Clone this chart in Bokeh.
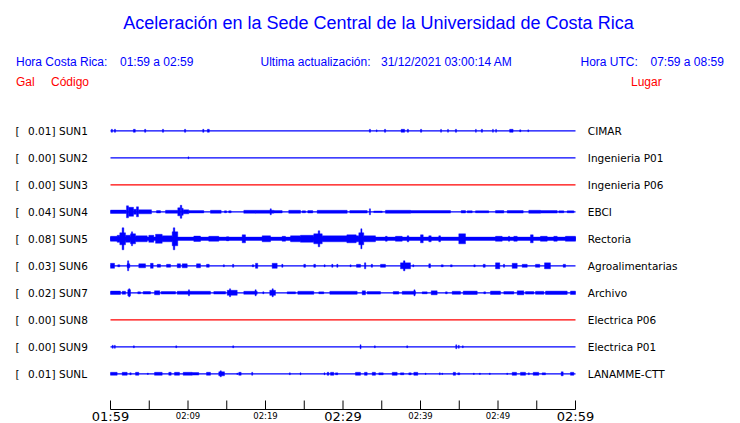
from bokeh.plotting import figure
from bokeh.models import Range1d
from bokeh.core.properties import value
from bokeh.embed import file_html
from bokeh.resources import INLINE

# ---------------- data ----------------
codes = ["SUN1", "SUN2", "SUN3", "SUN4", "SUN5", "SUN6", "SUN7", "SUN8", "SUN9", "SUNL"]
places = ["CIMAR", "Ingenieria P01", "Ingenieria P06", "EBCI", "Rectoria",
          "Agroalimentarias", "Archivo", "Electrica P06", "Electrica P01", "LANAMME-CTT"]
peak_gal = ["0.01", "0.00", "0.00", "0.04", "0.08", "0.03", "0.02", "0.00", "0.00", "0.01"]
trace_colors = ["#0000FF", "#0000FF", "#FF0000", "#0000FF", "#0000FF",
                "#0000FF", "#0000FF", "#FF0000", "#0000FF", "#0000FF"]

# bursts: (start minute, end minute, relative amplitude) ; minutes after 01:59
sun1_bursts = [(0.1, 0.25, 1.5), (0.5, 0.65, 1.5), (2.95, 3.2, 1.5), (4.4, 4.55, 1.5),
               (6.7, 6.85, 1.5), (9.55, 9.7, 1.5), (11.9, 12.05, 1.5), (12.5, 12.75, 1.5),
               (33.4, 33.55, 1.5), (34.3, 34.4, 1.0), (35.35, 35.5, 1.5), (37.5, 37.95, 1.5),
               (38.3, 38.45, 1.5), (40.0, 40.15, 1.5), (42.6, 42.7, 1.5), (43.5, 43.6, 1.5),
               (44.5, 44.65, 1.5), (47.1, 47.2, 1.5), (47.85, 48.0, 1.5), (49.3, 49.4, 1.5),
               (49.7, 49.8, 1.5), (51.5, 51.95, 1.5), (52.8, 52.95, 1.0), (53.85, 53.95, 1.0)]
sun2_bursts = [(10.0, 10.1, 1.0)]
sun3_bursts = []
sun4_bursts = [(0.0, 2.06, 1.7), (2.06, 2.32, 6.0), (2.32, 2.97, 4.5), (2.97, 3.35, 2.5),
               (3.35, 3.61, 5.0), (3.61, 5.29, 2.0), (5.94, 6.45, 1.2), (7.1, 8.68, 1.5),
               (8.68, 9.0, 4.0), (9.0, 9.2, 6.5), (9.2, 9.38, 3.5), (9.38, 10.1, 2.0),
               (10.1, 12.04, 1.2), (12.9, 14.28, 1.5), (14.71, 14.97, 1.0), (15.26, 15.57, 1.0),
               (17.2, 18.71, 1.5), (18.71, 21.07, 1.5), (20.6, 20.75, 3.0), (21.07, 22.15, 1.2),
               (23.0, 24.52, 1.5), (24.74, 25.16, 1.0), (25.46, 26.1, 1.2), (26.67, 30.54, 1.5),
               (30.88, 33.12, 1.3), (33.4, 33.55, 3.0), (33.97, 35.06, 0.8), (35.48, 38.71, 1.5),
               (38.71, 43.87, 1.3), (45.25, 45.81, 1.2), (46.03, 46.67, 1.0), (47.1, 48.81, 1.0),
               (49.68, 50.75, 1.3), (51.19, 53.25, 1.3), (53.97, 55.48, 1.5), (55.48, 57.64, 1.3),
               (57.85, 58.49, 1.0), (58.93, 59.78, 1.0)]
sun5_bursts = [(0.0, 60.0, 1.7), (0.0, 0.86, 2.5), (0.86, 1.2, 3.5), (1.2, 1.94, 6.0),
               (1.5, 1.72, 11.0), (1.94, 2.58, 3.5), (2.58, 3.23, 5.0), (2.7, 2.85, 7.0),
               (3.23, 4.74, 3.0), (4.94, 5.59, 3.5), (5.81, 6.67, 4.5), (6.67, 7.96, 3.0),
               (7.96, 8.68, 7.0), (8.1, 8.3, 11.0), (10.75, 11.61, 2.7), (12.68, 13.97, 2.5),
               (14.97, 15.26, 2.0), (16.99, 17.42, 4.0), (19.57, 20.65, 3.0), (22.15, 22.58, 2.5),
               (23.23, 24.52, 3.0), (24.52, 26.23, 3.5), (26.23, 27.32, 5.0), (26.8, 27.0, 8.0),
               (27.32, 32.04, 3.0), (30.5, 31.7, 4.0), (32.04, 32.68, 6.0), (32.3, 32.45, 10.0),
               (32.68, 34.19, 3.0), (35.48, 35.7, 2.5), (36.77, 37.64, 2.5), (38.28, 38.49, 3.0),
               (40.0, 40.35, 4.0), (41.07, 41.38, 3.0), (42.36, 42.58, 3.0), (44.94, 45.81, 5.0),
               (49.68, 50.54, 2.5), (51.35, 51.5, 2.5), (52.04, 52.48, 2.5), (54.19, 54.54, 4.0),
               (55.48, 56.35, 2.5), (57.2, 57.64, 2.5), (58.7, 60.0, 2.5)]
sun6_bursts = [(0.0, 0.52, 2.5), (0.94, 1.2, 1.0), (2.15, 2.49, 2.0), (2.2, 2.35, 5.0),
               (3.65, 4.52, 2.0), (5.16, 5.51, 2.5), (6.03, 6.45, 1.5), (7.23, 7.74, 1.5),
               (8.61, 9.03, 2.0), (9.25, 9.9, 2.0), (11.1, 11.61, 2.0), (12.39, 12.74, 1.5),
               (14.55, 14.7, 1.0), (15.75, 15.9, 1.5), (18.28, 18.49, 1.0), (18.71, 19.0, 2.5),
               (20.86, 21.51, 2.5), (22.1, 22.25, 1.5), (24.94, 25.16, 1.5), (26.23, 26.45, 1.5),
               (27.55, 27.7, 1.0), (28.55, 28.7, 1.5), (29.2, 29.35, 1.5), (30.9, 31.05, 1.0),
               (31.74, 32.26, 1.5), (32.77, 32.94, 3.0), (33.64, 33.81, 1.5), (34.84, 35.48, 1.5),
               (37.42, 38.71, 3.0), (37.8, 38.0, 5.0), (39.0, 39.15, 1.0), (41.07, 41.29, 2.0),
               (42.67, 42.93, 1.0), (43.87, 44.09, 1.0), (46.88, 47.06, 1.0), (48.09, 48.35, 1.5),
               (49.68, 50.23, 3.0), (50.7, 50.85, 1.5), (51.83, 52.48, 2.5), (53.12, 53.77, 1.5),
               (54.84, 55.39, 1.5), (56.0, 56.77, 3.0), (58.41, 58.71, 1.5)]
sun7_bursts = [(0.0, 1.29, 1.7), (1.51, 1.94, 1.5), (2.23, 2.58, 3.0), (2.35, 2.5, 4.0),
               (3.52, 3.87, 1.0), (4.22, 5.16, 1.3), (5.68, 6.36, 2.0), (6.54, 8.39, 1.3),
               (8.61, 10.1, 1.5), (10.05, 10.2, 3.0), (10.1, 12.9, 1.5), (13.33, 14.84, 1.3),
               (15.06, 16.35, 2.5), (15.35, 15.5, 4.0), (17.2, 18.93, 1.5), (18.65, 18.8, 3.0),
               (19.65, 19.8, 1.0), (20.55, 21.29, 2.5), (20.85, 21.0, 4.0), (22.8, 23.87, 1.0),
               (24.17, 26.23, 1.5), (26.88, 27.52, 1.0), (28.3, 31.83, 1.5), (32.48, 32.9, 2.0),
               (33.12, 34.84, 1.3), (36.48, 37.2, 1.3), (37.64, 39.35, 1.5), (39.15, 39.3, 3.0),
               (40.22, 40.86, 1.0), (41.38, 42.15, 2.0), (43.23, 43.45, 1.0), (44.09, 45.16, 1.5),
               (45.51, 47.32, 1.7), (48.17, 48.39, 1.0), (49.03, 50.32, 1.7), (50.75, 52.04, 1.3),
               (52.48, 53.33, 2.0), (53.55, 54.62, 1.3), (54.84, 55.91, 1.5), (56.13, 58.93, 1.7),
               (59.35, 60.0, 1.7)]
sun8_bursts = []
sun9_bursts = [(0.22, 0.35, 1.5), (0.5, 0.62, 1.5), (2.95, 3.08, 1.0), (8.42, 8.55, 1.0),
               (15.77, 15.9, 1.0), (32.2, 32.33, 2.0), (34.05, 34.17, 1.0), (38.22, 38.35, 1.0),
               (44.55, 44.68, 2.0), (44.88, 45.0, 1.5), (45.4, 45.52, 1.0)]
sunl_bursts = [(0.0, 0.86, 1.5), (1.51, 2.15, 1.5), (2.49, 2.67, 1.0), (3.23, 3.65, 1.5),
               (4.75, 4.88, 0.7), (5.68, 6.67, 1.5), (7.52, 7.83, 1.5), (8.26, 8.9, 1.5),
               (9.38, 10.54, 1.5), (10.54, 11.39, 1.3), (12.39, 12.9, 1.5), (13.97, 14.71, 2.0),
               (14.15, 14.3, 3.0), (16.3, 16.42, 0.7), (16.55, 16.86, 1.5), (18.22, 18.35, 1.5),
               (23.08, 23.2, 1.0), (24.46, 24.58, 1.0), (27.55, 27.67, 1.0), (27.96, 28.17, 1.5),
               (28.39, 28.81, 1.5), (29.03, 29.33, 1.0), (31.61, 32.26, 1.5), (32.77, 33.12, 1.5),
               (33.77, 34.19, 1.5), (34.62, 35.19, 1.0), (36.35, 36.99, 1.5), (37.42, 37.85, 1.0),
               (38.49, 38.8, 1.0), (39.14, 39.65, 1.5), (40.6, 40.72, 0.7), (42.43, 42.55, 1.0),
               (42.75, 42.87, 0.7), (44.22, 44.52, 1.5), (44.81, 45.07, 1.0), (46.82, 46.94, 0.7),
               (47.6, 47.72, 0.7), (48.88, 49.0, 0.7), (51.13, 51.25, 0.7), (51.83, 52.39, 1.5),
               (52.9, 53.55, 1.5), (53.92, 54.04, 1.0), (54.54, 55.26, 1.5), (55.7, 56.13, 1.0),
               (58.15, 58.41, 2.0), (59.35, 59.78, 1.5)]
station_bursts = [sun1_bursts, sun2_bursts, sun3_bursts, sun4_bursts, sun5_bursts,
                  sun6_bursts, sun7_bursts, sun8_bursts, sun9_bursts, sunl_bursts]

window_minutes = 60
tick_minutes = list(range(0, 61, 5))
major_label_minutes = [0, 30, 60]
major_labels = ["01:59", "02:29", "02:59"]
minor_label_minutes = [10, 20, 40, 50]
minor_labels = ["02:09", "02:19", "02:39", "02:49"]

# ---------------- layout helpers ----------------
W, H = 740, 423
PAGE_X0, PX_PER_MIN = 110.0, 7.75      # page pixel of minute 0, pixels per minute
ROW0_Y, ROW_DY = 130.3, 27.0           # page pixel of first trace, spacing
AMP = 1.0 / ROW_DY                      # relative amplitude -> rows


def fx(px):
    return (px - PAGE_X0) / PX_PER_MIN


def fy(py):
    return (py - ROW0_Y) / ROW_DY


p = figure(width=W, height=H, output_backend="svg", toolbar_location=None,
           x_range=Range1d(fx(0), fx(W)),
           y_range=Range1d(start=fy(H), end=fy(0)),
           x_axis_location=None, y_axis_location=None, min_border=0)
p.outline_line_color = None
p.grid.visible = False
p.background_fill_color = "white"
p.border_fill_color = "white"

rows = list(range(len(codes)))

# bursts as quads
left, right, top, bottom, qcol = [], [], [], [], []
for r, bursts in enumerate(station_bursts):
    for (t0, t1, a) in bursts:
        left.append(t0)
        right.append(t1)
        top.append(r - a * AMP)
        bottom.append(r + a * AMP)
        qcol.append(trace_colors[r])
p.quad(left=left, right=right, top=top, bottom=bottom, fill_color=qcol,
       line_color=qcol, line_width=0.4)

# baselines
p.segment(x0=[0] * len(rows), x1=[window_minutes] * len(rows), y0=rows, y1=rows,
          line_color=trace_colors, line_width=1.2)

# left labels
lab_font = value("DejaVu Sans")
p.text(x=[fx(15)] * len(rows), y=rows, text=["["] * len(rows), text_font=lab_font,
       text_font_size="10.5px", text_baseline="middle", text_color="black")
p.text(x=[fx(27.5)] * len(rows), y=rows, text=[g + "]" for g in peak_gal], text_font=lab_font,
       text_font_size="10.5px", text_baseline="middle", text_color="black")
p.text(x=[fx(58.5)] * len(rows), y=rows, text=codes, text_font=lab_font,
       text_font_size="10.5px", text_baseline="middle", text_color="black")
# right labels
p.text(x=[fx(587.3)] * len(rows), y=rows, text=places, text_font=lab_font,
       text_font_size="10.5px", text_baseline="middle", text_color="black")

# title & header
hfont = value("Liberation Sans")
p.text(x=[fx(378)], y=[fy(22)], text=["Aceleración en la Sede Central de la Universidad de Costa Rica"],
       text_font=hfont, text_font_size="18px", text_align="center", text_baseline="middle",
       text_color="#0000FF")
p.text(x=[fx(15.5), fx(119.5), fx(260), fx(380.5), fx(580), fx(650)],
       y=[fy(61)] * 6,
       text=["Hora Costa Rica:", "01:59 a 02:59", "Ultima actualización:",
             "31/12/2021 03:00:14 AM", "Hora UTC:", "07:59 a 08:59"],
       text_font=hfont, text_font_size="12px", text_baseline="middle", text_color="#0000FF")
p.text(x=[fx(15.5), fx(50.5), fx(630.5)], y=[fy(81)] * 3,
       text=["Gal", "Código", "Lugar"],
       text_font=hfont, text_font_size="12px", text_baseline="middle", text_color="#FF0000")

# time axis
AX_Y = 409.0
p.segment(x0=[0], x1=[window_minutes], y0=[fy(AX_Y)], y1=[fy(AX_Y)], line_color="black", line_width=1)
p.segment(x0=tick_minutes, x1=tick_minutes, y0=[fy(AX_Y)] * len(tick_minutes),
          y1=[fy(AX_Y - 9)] * len(tick_minutes), line_color="black", line_width=1)
p.text(x=major_label_minutes, y=[fy(AX_Y + 6.5)] * 3, text=major_labels, text_font=lab_font,
       text_font_size="13px", text_align="center", text_baseline="middle", text_color="black")
p.text(x=minor_label_minutes, y=[fy(AX_Y + 6)] * 4, text=minor_labels, text_font=lab_font,
       text_font_size="8.5px", text_align="center", text_baseline="middle", text_color="black")

open("out.html", "w").write(file_html(p, INLINE))
